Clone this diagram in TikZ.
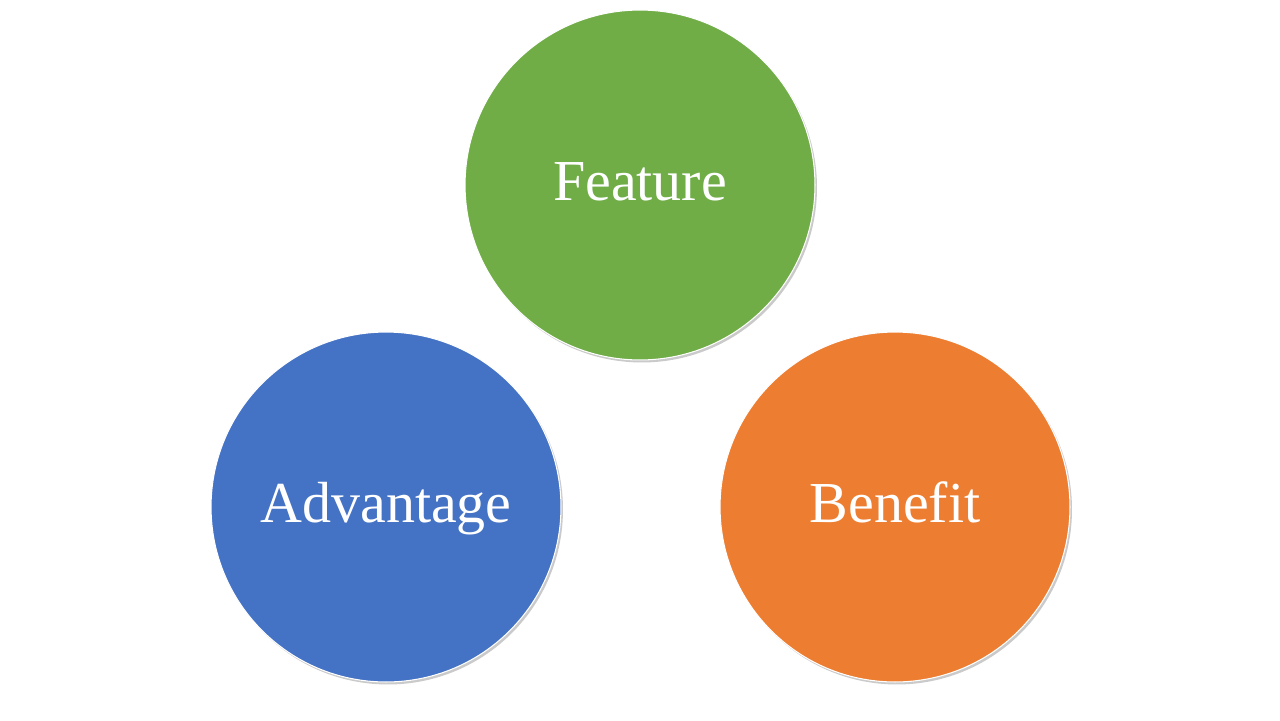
\documentclass[tikz,border=0pt]{standalone}
\usepackage{fontspec}
\setmainfont{Liberation Serif}
\usepackage{tikz}
\usetikzlibrary{shadows}
\definecolor{offgreen}{HTML}{70AD47}
\definecolor{offblue}{HTML}{4472C4}
\definecolor{offorange}{HTML}{ED7D31}

\tikzset{
  fabcircle/.style={circle, draw=white, line width=0.6pt, minimum size=7cm, inner sep=0pt,
    text=white, font=\fontsize{33}{40}\selectfont, text height=0.6cm, text depth=0pt,
    drop shadow={shadow xshift=0.4mm, shadow yshift=-0.5mm, opacity=0.35, fill=black!60}}
}

\begin{document}
\begin{tikzpicture}[x=0.02cm, y=-0.02cm]
\useasboundingbox (0,0) rectangle (1280,720);
\node[fabcircle, fill=offgreen]  (feature)   at (640,185) {Feature};
\node[fabcircle, fill=offblue]   (advantage) at (386,507) {Advantage};
\node[fabcircle, fill=offorange] (benefit)   at (895,507) {Benefit};
\end{tikzpicture}
\end{document}
